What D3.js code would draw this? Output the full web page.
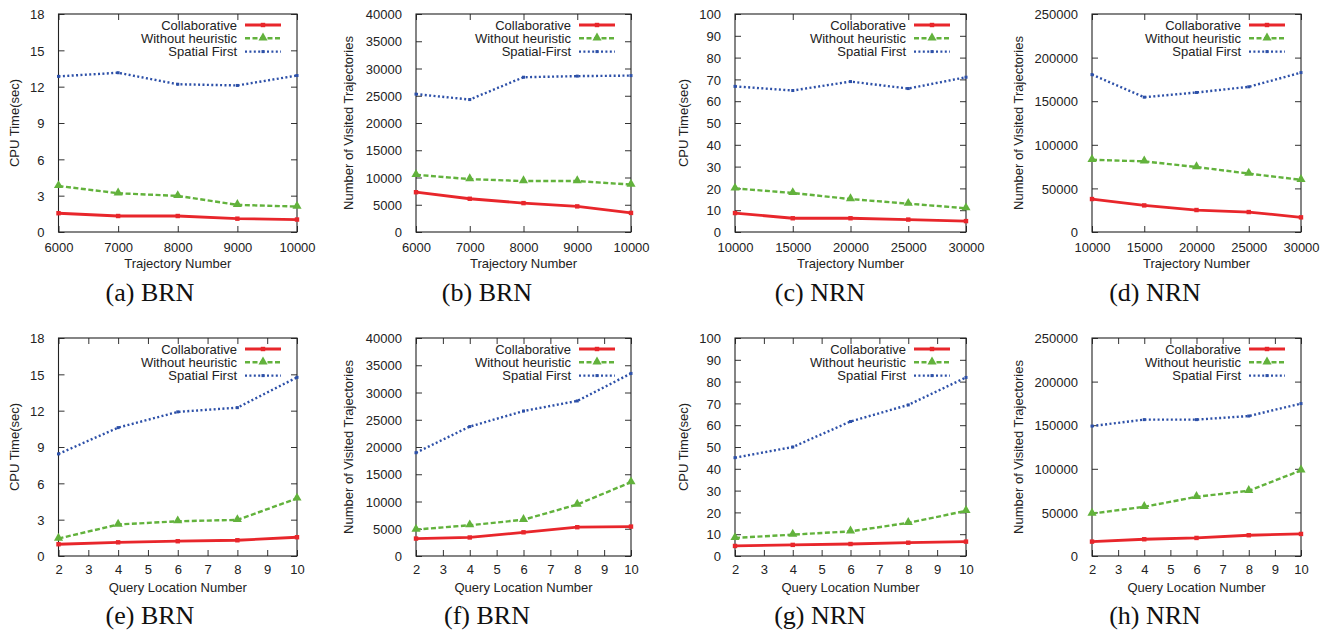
<!DOCTYPE html>
<html><head><meta charset="utf-8">
<script src="https://cdn.jsdelivr.net/npm/d3@7"></script>
<style>
html,body{margin:0;padding:0;background:#fff;}
svg{display:block;}
</style></head>
<body>
<svg id="chart" width="1331" height="634"></svg>
<script>
// ---------- data ----------
const xTrajBRN = [6000, 7000, 8000, 9000, 10000];
const xTrajNRN = [10000, 15000, 20000, 25000, 30000];
const xQuery = [2, 4, 6, 8, 10];
const xQueryTicks = [2, 3, 4, 5, 6, 7, 8, 9, 10];

const seriesNames = ["Collaborative", "Without heuristic", "Spatial First"];
const seriesNamesB = ["Collaborative", "Without heuristic", "Spatial-First"];

const aCollab = [1.55, 1.32, 1.32, 1.1, 1.03];
const aWithout = [3.8, 3.2, 2.98, 2.24, 2.1];
const aSpatial = [12.85, 13.15, 12.2, 12.1, 12.92];

const bCollab = [7300, 6100, 5300, 4700, 3500];
const bWithout = [10500, 9700, 9350, 9350, 8700];
const bSpatial = [25300, 24300, 28400, 28600, 28700];

const cCollab = [8.7, 6.3, 6.3, 5.7, 5.0];
const cWithout = [20, 17.9, 15.1, 13, 10.9];
const cSpatial = [66.8, 64.9, 69, 65.8, 71];

const dCollab = [37800, 30500, 25200, 22900, 16800];
const dWithout = [82800, 81000, 74500, 67000, 59800];
const dSpatial = [180500, 154600, 160000, 166500, 182800];

const eCollab = [0.97, 1.13, 1.22, 1.3, 1.55];
const eWithout = [1.44, 2.6, 2.87, 2.98, 4.75];
const eSpatial = [8.43, 10.6, 11.9, 12.25, 14.75];

const fCollab = [3200, 3400, 4350, 5280, 5400];
const fWithout = [4850, 5650, 6650, 9450, 13550];
const fSpatial = [18950, 23750, 26600, 28450, 33500];

const gCollab = [4.6, 5.1, 5.5, 6.1, 6.6];
const gWithout = [8.3, 9.8, 11.3, 15.2, 20.7];
const gSpatial = [45.1, 50, 61.7, 69.3, 81.9];

const hCollab = [16500, 19200, 20700, 23800, 25300];
const hWithout = [48700, 56400, 67900, 74800, 98200];
const hSpatial = [149000, 156400, 156400, 160500, 174800];

const yTicksCpuBRN = [0, 3, 6, 9, 12, 15, 18];
const yTicksVisBRN = [0, 5000, 10000, 15000, 20000, 25000, 30000, 35000, 40000];
const yTicksCpuNRN = [0, 10, 20, 30, 40, 50, 60, 70, 80, 90, 100];
const yTicksVisNRN = [0, 50000, 100000, 150000, 200000, 250000];

const captions = ["(a) BRN", "(b) BRN", "(c) NRN", "(d) NRN", "(e) BRN", "(f) BRN", "(g) NRN", "(h) NRN"];
const xTitles = ["Trajectory Number", "Query Location Number"];
const yTitles = ["CPU Time(sec)", "Number of Visited Trajectories"];

// ---------- layout / styles ----------
const colX = [
  {left: 58.5, right: 297, ytitle: 14, cap: 150},
  {left: 416, right: 631, ytitle: 348, cap: 487},
  {left: 735, right: 966, ytitle: 683, cap: 820},
  {left: 1092, right: 1301, ytitle: 1018, cap: 1155}
];
const rowY = [
  {top: 14, bottom: 232, tickLab: 251.5, xtitle: 268, cap: 300.5},
  {top: 338, bottom: 556, tickLab: 573.5, xtitle: 591.5, cap: 623.5}
];
const colors = ["#e8262b", "#62b23c", "#2d50a8"];
const FONT = "'Liberation Sans', Arial, Helvetica, sans-serif";
const TEXTC = "#222";

const panels = [
  {row:0,col:0,x:xTrajBRN,xt:xTrajBRN,yt:yTicksCpuBRN,ys:[aCollab,aWithout,aSpatial],names:seriesNames,yTitle:yTitles[0]},
  {row:0,col:1,x:xTrajBRN,xt:xTrajBRN,yt:yTicksVisBRN,ys:[bCollab,bWithout,bSpatial],names:seriesNamesB,yTitle:yTitles[1]},
  {row:0,col:2,x:xTrajNRN,xt:xTrajNRN,yt:yTicksCpuNRN,ys:[cCollab,cWithout,cSpatial],names:seriesNames,yTitle:yTitles[0]},
  {row:0,col:3,x:xTrajNRN,xt:xTrajNRN,yt:yTicksVisNRN,ys:[dCollab,dWithout,dSpatial],names:seriesNames,yTitle:yTitles[1]},
  {row:1,col:0,x:xQuery,xt:xQueryTicks,yt:yTicksCpuBRN,ys:[eCollab,eWithout,eSpatial],names:seriesNames,yTitle:yTitles[0]},
  {row:1,col:1,x:xQuery,xt:xQueryTicks,yt:yTicksVisBRN,ys:[fCollab,fWithout,fSpatial],names:seriesNames,yTitle:yTitles[1]},
  {row:1,col:2,x:xQuery,xt:xQueryTicks,yt:yTicksCpuNRN,ys:[gCollab,gWithout,gSpatial],names:seriesNames,yTitle:yTitles[0]},
  {row:1,col:3,x:xQuery,xt:xQueryTicks,yt:yTicksVisNRN,ys:[hCollab,hWithout,hSpatial],names:seriesNames,yTitle:yTitles[1]}
];

const svg = d3.select("#chart");
const tri = d3.symbol().type(d3.symbolTriangle).size(36);

function styleLine(sel, i) {
  sel.attr("fill", "none").attr("stroke", colors[i]).attr("stroke-linejoin", "round");
  if (i === 0) sel.attr("stroke-width", 2.8);
  if (i === 1) sel.attr("stroke-width", 2.4).attr("stroke-dasharray", "5,2.5");
  if (i === 2) sel.attr("stroke-width", 2.4).attr("stroke-dasharray", "2,2.4");
  return sel;
}
function drawMarker(g, i, px, py) {
  if (i === 0) {
    g.append("rect").attr("x", px - 2.2).attr("y", py - 2.2).attr("width", 4.4).attr("height", 4.4).attr("fill", colors[0]);
  } else if (i === 1) {
    g.append("path").attr("d", tri).attr("transform", `translate(${px},${py - 0.5})`).attr("fill", colors[1]);
  } else {
    g.append("rect").attr("x", px - 1.5).attr("y", py - 1.5).attr("width", 3).attr("height", 3).attr("fill", colors[2]);
  }
}

panels.forEach((p, pi) => {
  const c = colX[p.col], r = rowY[p.row];
  const g = svg.append("g");
  const x = d3.scaleLinear().domain([p.xt[0], p.xt[p.xt.length - 1]]).range([c.left, c.right]);
  const y = d3.scaleLinear().domain([p.yt[0], p.yt[p.yt.length - 1]]).range([r.bottom, r.top]);

  // axes (ticks inward, mirrored)
  const tl = 6;
  const axL = d3.axisLeft(y).tickValues(p.yt).tickSize(-tl).tickPadding(tl + 8).tickFormat(d3.format("d"));
  const axR = d3.axisRight(y).tickValues(p.yt).tickSize(-tl).tickFormat("");
  const axB = d3.axisBottom(x).tickValues(p.xt).tickSize(-tl).tickPadding(0).tickFormat(d3.format("d"));
  const axT = d3.axisTop(x).tickValues(p.xt).tickSize(-tl).tickFormat("");
  const styleAx = a => {
    a.select(".domain").remove();
    a.selectAll(".tick line").attr("stroke", "#333").attr("stroke-width", 1);
    a.selectAll("text").attr("font-family", FONT).attr("font-size", 13).attr("fill", TEXTC);
  };
  const gl = g.append("g").attr("transform", `translate(${c.left},0)`).call(axL); styleAx(gl);
  gl.selectAll("text").attr("dy", "0.36em");
  const gr = g.append("g").attr("transform", `translate(${c.right},0)`).call(axR); styleAx(gr);
  const gb = g.append("g").attr("transform", `translate(0,${r.bottom})`).call(axB); styleAx(gb);
  gb.selectAll(".tick text").attr("dy", null).attr("y", r.tickLab - r.bottom);
  const gt = g.append("g").attr("transform", `translate(0,${r.top})`).call(axT); styleAx(gt);

  // frame
  g.append("rect").attr("x", c.left).attr("y", r.top).attr("width", c.right - c.left).attr("height", r.bottom - r.top)
    .attr("fill", "none").attr("stroke", "#222").attr("stroke-width", 1.1);

  // series
  const line = d3.line();
  p.ys.forEach((vals, i) => {
    const pts = p.x.map((xv, k) => [x(xv), y(vals[k])]);
    styleLine(g.append("path").attr("d", line(pts)), i);
    pts.forEach(pt => drawMarker(g, i, pt[0], pt[1]));
  });

  // legend
  p.names.forEach((nm, i) => {
    const ly = r.top + 11 + i * 13.3;
    g.append("text").attr("x", c.right - 60).attr("y", ly + 4.6).attr("text-anchor", "end")
      .attr("font-family", FONT).attr("font-size", 13).attr("fill", TEXTC).text(nm);
    styleLine(g.append("line").attr("x1", c.right - 52).attr("x2", c.right - 16).attr("y1", ly).attr("y2", ly), i);
    drawMarker(g, i, c.right - 34, ly);
  });

  // axis titles
  g.append("text").attr("x", (c.left + c.right) / 2).attr("y", r.xtitle).attr("text-anchor", "middle")
    .attr("font-family", FONT).attr("font-size", 13).attr("fill", TEXTC).text(xTitles[p.row]);
  g.append("text").attr("transform", `translate(${c.ytitle + 4.5},${(r.top + r.bottom) / 2}) rotate(-90)`)
    .attr("text-anchor", "middle").attr("font-family", FONT).attr("font-size", 13).attr("fill", TEXTC).text(p.yTitle);

  // caption
  g.append("text").attr("x", c.cap).attr("y", r.cap).attr("text-anchor", "middle")
    .attr("font-family", "'Liberation Serif', 'Times New Roman', serif").attr("font-size", 26).attr("fill", "#111")
    .text(captions[pi]);
});
</script>
</body></html>
